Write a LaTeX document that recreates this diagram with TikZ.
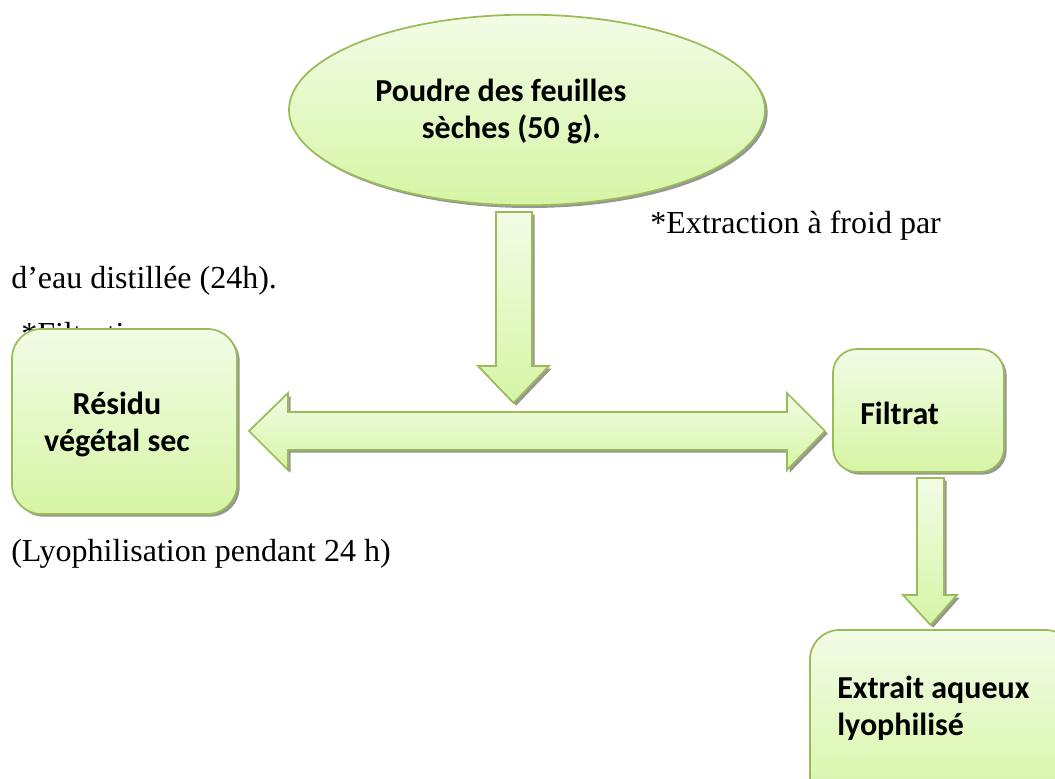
\documentclass[tikz,border=0pt]{standalone}
\usepackage{fontspec}
\setmainfont{Liberation Serif}
\newfontfamily\calib{Carlito}
\usetikzlibrary{shapes.geometric,shadows}
\definecolor{bordergreen}{RGB}{155,187,89}
\definecolor{filltop}{RGB}{242,252,230}
\definecolor{fillbot}{RGB}{214,245,165}
\definecolor{shadowgray}{RGB}{150,150,150}
\tikzset{
 greenshape/.style={draw=bordergreen, line width=1.3pt, top color=filltop, bottom color=fillbot,
   drop shadow={shadow xshift=2pt, shadow yshift=-2pt, fill=shadowgray, opacity=1}},
 roundbox/.style={greenshape, rectangle, rounded corners=#1, inner sep=0pt, outer sep=0pt},
 boldlabel/.style={font=\calib\bfseries\fontsize{24}{27.75}\selectfont, inner sep=0pt, align=left},
 seriflabel/.style={font=\fontsize{24}{29}\selectfont, inner sep=0pt, anchor=base west},
}
\begin{document}
\begin{tikzpicture}[x=0.75pt,y=-0.75pt]
\useasboundingbox (0,0) rectangle (1055,778);
\clip (0,0) rectangle (1055,778);
% serif labels
\node[seriflabel] (t1) at (650,233) {*Extraction à froid par};
\node[seriflabel] (t2) at (11,288) {d’eau distillée (24h).};
\node[seriflabel] (t3) at (21,344) {*Filtration};
\node[seriflabel] (t4) at (11,561) {(Lyophilisation pendant 24 h)};
% ellipse
\node[greenshape, ellipse, minimum width=357pt, minimum height=143pt, inner sep=0pt, outer sep=0pt] (poudre) at (527,110) {};
% down arrow 1
\path[greenshape] (496,212) -- (532,212) -- (532,366) -- (549,366) -- (513.5,403) -- (478,366) -- (496,366) -- cycle;
% double arrow
\path[greenshape] (249,431) -- (288,393) -- (288,412) -- (787,412) -- (787,393) -- (825,431) -- (787,470) -- (787,450) -- (288,450) -- (288,470) -- cycle;
% boxes
\node[roundbox=22pt, minimum width=168.75pt, minimum height=138.75pt] (residu) at (124.5,421.5) {};
\node[roundbox=18pt, minimum width=128.25pt, minimum height=92.25pt] (filtrat) at (918.5,410.5) {};
% down arrow 2
\path[greenshape] (917,478) -- (944,478) -- (944,595) -- (957,595) -- (930.5,625) -- (903,595) -- (917,595) -- cycle;
\node[roundbox=22pt, minimum width=198.75pt, minimum height=135pt] (extrait) at (942.5,720) {};
% bold texts
\node[boldlabel, anchor=west] (poudretxt) at (375,111) {Poudre des feuilles\\\hspace*{35pt}sèches (50 g).};
\node[boldlabel, align=center] (residutxt) at (117,424) {Résidu\\végétal sec};
\node[boldlabel, anchor=west] (filtrattxt) at (860,413) {Filtrat};
\node[boldlabel, anchor=west] (extraittxt) at (837,708) {Extrait aqueux\\lyophilisé};
\end{tikzpicture}
\end{document}
